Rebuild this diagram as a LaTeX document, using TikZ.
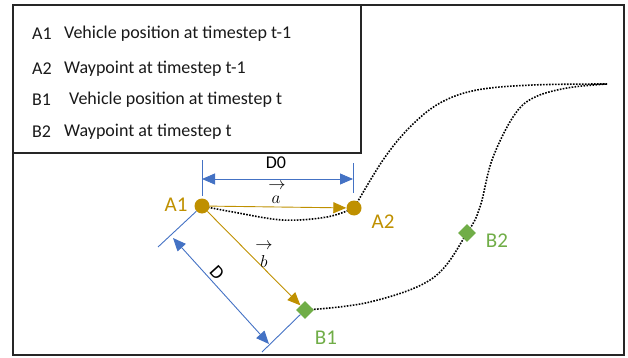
\documentclass[tikz,border=0pt]{standalone}
\usepackage{fontspec}
\setmainfont{Carlito}
\usetikzlibrary{arrows.meta,shapes.geometric}
\definecolor{gold}{HTML}{BF9000}
\definecolor{leaf}{HTML}{70AD47}
\definecolor{steel}{HTML}{4472C4}
\begin{document}
\begin{tikzpicture}[x=1pt,y=-1pt,
  frame/.style={draw=black!85,line width=1.8pt},
  legendtext/.style={anchor=west,font=\fontsize{18}{21}\selectfont,text=black!90,inner sep=0pt},
  track/.style={draw=black,line width=1.6pt,dash pattern=on 1.6pt off 1.4pt},
  prevpt/.style={circle,fill=gold,minimum size=15pt,inner sep=0pt},
  currpt/.style={diamond,fill=leaf,minimum size=18pt,inner sep=0pt},
  vec/.style={draw=gold,line width=0.9pt,-{Triangle[length=13pt,width=11pt]}},
  dimtick/.style={draw=steel,line width=0.9pt},
  dimarrow/.style={draw=steel,line width=0.9pt,{Triangle[length=13pt,width=11pt]}-{Triangle[length=13pt,width=11pt]}},
  ptlabel/.style={font=\fontsize{21}{24}\selectfont},
  vecsym/.style={inner sep=0pt,font=\fontsize{18}{18}\selectfont},
]
\useasboundingbox (0,0) rectangle (628,358);

% outer frame and legend box
\draw[frame] (13,5) rectangle (624,355);
\draw[frame] (13,5) rectangle (361,153);
\node[legendtext] (k1) at (32,34) {A1};
\node[legendtext] (t1) at (64,34) {Vehicle position at timestep t-1};
\node[legendtext] (k2) at (32,69) {A2};
\node[legendtext] (t2) at (64,69) {Waypoint at timestep t-1};
\node[legendtext] (k3) at (32,100) {B1};
\node[legendtext] (t3) at (69,100) {Vehicle position at timestep t};
\node[legendtext] (k4) at (32,132) {B2};
\node[legendtext] (t4) at (64,132) {Waypoint at timestep t};

% point positions
\coordinate (pA1) at (202,206);
\coordinate (pA2) at (354,208);
\coordinate (pB1) at (305,310);
\coordinate (pB2) at (467,233);
\coordinate (endA) at (607,84);
\coordinate (endB) at (607,84);

% planned trajectories
\draw[track] plot[smooth,tension=0.6] coordinates {(pA1) (233,212) (283,220) (327,217) (pA2)};
\draw[track] plot[smooth,tension=0.6] coordinates {(pA2) (383,160) (410,127) (440,103) (477,90) (533,85) (endA)};
\draw[track] plot[smooth,tension=0.6] coordinates {(pB1) (370,302) (433,278) (pB2) (480,207) (492,160) (513,117) (533,98) (567,88) (endB)};

% points
\node[prevpt] (A1) at (pA1) {};
\node[prevpt] (A2) at (pA2) {};
\node[currpt] (B1) at (pB1) {};
\node[currpt] (B2) at (pB2) {};
\node[ptlabel,text=gold] (lA1) at (176,205) {A1};
\node[ptlabel,text=gold] (lA2) at (383,222) {A2};
\node[ptlabel,text=leaf] (lB1) at (326,338) {B1};
\node[ptlabel,text=leaf] (lB2) at (497,241) {B2};

% vectors a and b
\draw[vec] (A1) -- (A2);
\draw[vec] (A1) -- (B1);
\node[vecsym] (va1) at (277,186) {$\rightarrow$};
\node[vecsym] (va2) at (276,200) {$a$};
\node[vecsym] (vb1) at (264,246) {$\rightarrow$};
\node[vecsym] (vb2) at (264,261) {$b$};

% dimension D0
\coordinate (t0a) at (202,160);
\coordinate (t0b) at (202,196);
\coordinate (t1a) at (353,163);
\coordinate (t1b) at (353,193);
\coordinate (d0a) at (202,179);
\coordinate (d0b) at (353,179);
\draw[dimtick] (t0a) -- (t0b);
\draw[dimtick] (t1a) -- (t1b);
\draw[dimarrow] (d0a) -- (d0b);
\node[font=\fontsize{18}{20}\selectfont] (lD0) at (276,163) {D0};

% dimension D
\coordinate (dA) at (158,247);
\coordinate (dB) at (262,352);
\coordinate (dA1) at (173,238);
\coordinate (dB1) at (269,344);
\draw[dimtick] (A1) -- (dA);
\draw[dimtick] (B1) -- (dB);
\draw[dimarrow] (dA1) -- (dB1);
\node[font=\fontsize{19}{21}\selectfont,rotate=-48] (lD) at (217,273) {D};
\end{tikzpicture}
\end{document}
